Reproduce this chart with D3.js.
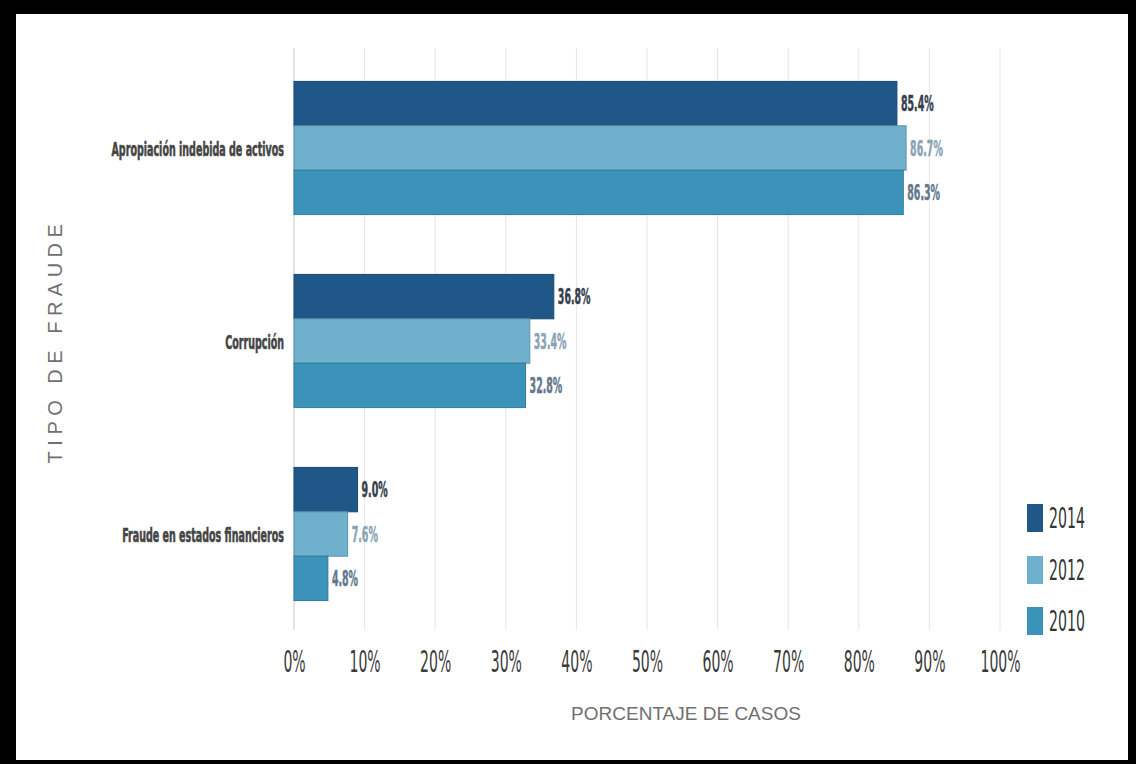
<!DOCTYPE html>
<html><head><meta charset="utf-8">
<script src="https://cdn.jsdelivr.net/npm/d3@7"></script>
<style>
html,body{margin:0;padding:0;background:#000;}
svg{display:block;}
</style></head>
<body>
<svg id="chart" width="1136" height="764"></svg>
<script>
const categories = ["Apropiación indebida de activos", "Corrupción", "Fraude en estados financieros"];
const years = ["2014", "2012", "2010"];
const values2014 = [85.4, 36.8, 9.0];
const values2012 = [86.7, 33.4, 7.6];
const values2010 = [86.3, 32.8, 4.8];
const labels2014 = ["85.4%", "36.8%", "9.0%"];
const labels2012 = ["86.7%", "33.4%", "7.6%"];
const labels2010 = ["86.3%", "32.8%", "4.8%"];
const xTicks = [0,10,20,30,40,50,60,70,80,90,100];
const colors = ["#1f5788", "#6fb0cc", "#3b93ba"];
const labelColors = ["#36404c", "#8aa3b5", "#62798c"];

const seriesVals = [values2014, values2012, values2010];
const seriesLabels = [labels2014, labels2012, labels2010];

const svg = d3.select("#chart");
svg.append("rect").attr("x",16).attr("y",14).attr("width",1112).attr("height",746).attr("fill","#fff");

const x = d3.scaleLinear().domain([0,100]).range([294,1000]);
const y = d3.scaleBand().domain(categories).range([51.5,630.5]).paddingInner(0.31).paddingOuter(0.155);
const ySub = d3.scaleBand().domain(years).range([0, y.bandwidth()]);

const condensed = "'DejaVu Sans Condensed','DejaVu Sans',sans-serif";

// gridlines
svg.append("g").selectAll("line").data(xTicks).join("line")
  .attr("x1",d=>x(d)).attr("x2",d=>x(d)).attr("y1",48).attr("y2",630)
  .attr("stroke",d=>d===0?"#c8c8c8":"#e6e6e6").attr("stroke-width",1);

// bars
const rows = [];
categories.forEach((c,i)=>years.forEach((yr,j)=>rows.push({c,yr,j,v:seriesVals[j][i],l:seriesLabels[j][i]})));

svg.append("g").selectAll("rect").data(rows).join("rect")
  .attr("x",x(0)).attr("y",d=>y(d.c)+ySub(d.yr))
  .attr("width",d=>x(d.v)-x(0)).attr("height",ySub.bandwidth())
  .attr("fill",d=>colors[d.j]).attr("stroke",d=>d3.color(colors[d.j]).darker(0.5)).attr("stroke-width",1);

svg.append("g").selectAll("text").data(rows).join("text")
  .attr("transform",d=>`translate(${x(d.v)+4},${y(d.c)+ySub(d.yr)+ySub.bandwidth()/2}) scale(0.5,1)`)
  .attr("dy","0.36em").attr("font-family",condensed).attr("font-weight","bold")
  .attr("font-size",21).attr("fill",d=>labelColors[d.j])
  .attr("stroke",d=>labelColors[d.j]).attr("stroke-width",0.5).text(d=>d.l);

// category labels
svg.append("g").selectAll("text").data(categories).join("text")
  .attr("transform",d=>`translate(284,${y(d)+y.bandwidth()/2+1}) scale(0.53,1)`).attr("dy","0.35em")
  .attr("text-anchor","end").attr("font-family",condensed).attr("font-weight","bold")
  .attr("font-size",20).attr("fill","#454545").attr("stroke","#454545").attr("stroke-width",0.6).text(d=>d);

// x tick labels
const xAxis = d3.axisBottom(x).tickValues(xTicks).tickFormat(d=>d+"%").tickSize(0).tickPadding(0);
const gx = svg.append("g").attr("transform","translate(0,651)").call(xAxis);
gx.select(".domain").remove();
gx.selectAll("text").attr("font-family",condensed).attr("font-size",30).attr("fill","#3a3a3a")
  .attr("dy","0.71em").attr("transform","scale(0.52,1)");

// axis titles
svg.append("text").attr("x",686).attr("y",720).attr("text-anchor","middle")
  .attr("font-family","'Liberation Sans',Arial,sans-serif").attr("font-size",19).attr("fill","#707070")
  .text("PORCENTAJE DE CASOS");
svg.append("text").attr("transform","translate(62,341) rotate(-90)").attr("text-anchor","middle")
  .attr("font-family","'Liberation Sans',Arial,sans-serif").attr("font-size",20).attr("fill","#707070")
  .attr("letter-spacing",5.5).text("TIPO DE FRAUDE");

// legend
const legendY = [518, 570, 621];
const lg = svg.append("g").selectAll("g").data(years).join("g")
  .attr("transform",(d,i)=>`translate(1027,${legendY[i]})`);
lg.append("rect").attr("y",-14).attr("width",16).attr("height",28).attr("fill",(d,i)=>colors[i]);
lg.append("text").attr("transform","translate(22,0) scale(0.56,1)").attr("dy","0.36em")
  .attr("font-family",condensed).attr("font-size",28).attr("fill","#333").text(d=>d);
</script>
</body></html>
